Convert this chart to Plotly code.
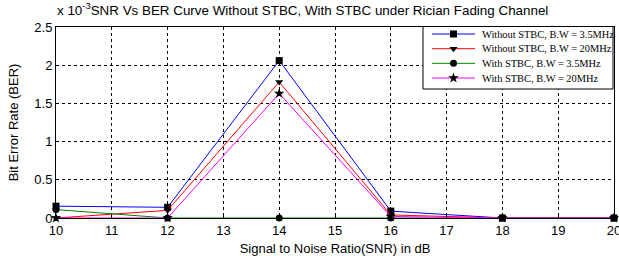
import plotly.graph_objects as go

snr = [10, 12, 14, 16, 18, 20]
# BER values in units of 1e-3
ber_wo_35 = [0.155, 0.14, 2.06, 0.09, 0.0, 0.0]
ber_wo_20 = [0.0, 0.10, 1.78, 0.04, 0.0, 0.0]
ber_w_35 = [0.11, 0.0, 0.0, 0.0, 0.0, 0.0]
ber_w_20 = [0.0, 0.0, 1.63, 0.02, 0.0, 0.0]

names = ["Without STBC, B.W = 3.5MHz", "Without STBC, B.W = 20MHz",
         "With STBC, B.W = 3.5MHz", "With STBC, B.W = 20MHz"]
series = [ber_wo_35, ber_wo_20, ber_w_35, ber_w_20]
colors = ["#0000ff", "#ff0000", "#008000", "#ff00ff"]
symbols = ["square", "triangle-down", "circle", "star"]
msizes = [7, 7, 7, 8]

y_ticks = [0, 0.5, 1, 1.5, 2, 2.5]
y_ticktext = ["0", "0.5", "1", "1.5", "2", "2.5"]
x_ticks = list(range(10, 21))
x_range = [10, 20]
y_range = [0, 2.5]

W, H = 619, 256
L, R, T, B = 56, 5, 27, 38


def px_to_x(px):
    return x_range[0] + (px - L) / (W - R - L) * (x_range[1] - x_range[0])


def py_to_y(py):
    return y_range[0] + (H - B - py) / (H - B - T) * (y_range[1] - y_range[0])


fig = go.Figure()
for n, s, c, sym, ms in zip(names, series, colors, symbols, msizes):
    fig.add_trace(go.Scatter(
        x=snr, y=s, name=n, mode="lines+markers", showlegend=False,
        line=dict(color=c, width=1), cliponaxis=False,
        marker=dict(symbol=sym, color="black", size=ms, line=dict(width=0)),
    ))

# Custom legend (pixel layout) drawn on an overlay axis
leg_left, leg_top, leg_right, leg_bottom = 423, 25, 613, 89
row_y = [34, 48.7, 63.3, 78]
line_x0, line_x1, text_x = 432, 475, 480
shapes = [dict(type="rect", xref="x", yref="y",
               x0=px_to_x(leg_left), x1=px_to_x(leg_right),
               y0=py_to_y(leg_top), y1=py_to_y(leg_bottom),
               line=dict(color="black", width=1), fillcolor="white", layer="between")]
annotations = []
for n, c, sym, ms, ry in zip(names, colors, symbols, msizes, row_y):
    fig.add_trace(go.Scatter(
        x=[line_x0, line_x1], y=[ry, ry], xaxis="x2", yaxis="y2", mode="lines",
        line=dict(color=c, width=1), showlegend=False, cliponaxis=False, hoverinfo="skip"))
    fig.add_trace(go.Scatter(
        x=[(line_x0 + line_x1) / 2], y=[ry], xaxis="x2", yaxis="y2", mode="markers",
        marker=dict(symbol=sym, color="black", size=ms, line=dict(width=0)),
        showlegend=False, cliponaxis=False, hoverinfo="skip"))
    annotations.append(dict(text=n, xref="x2", yref="y2", x=text_x, y=ry,
                            xanchor="left", yanchor="middle", showarrow=False,
                            font=dict(family="Liberation Serif, Times New Roman", size=10.4, color="black")))

annotations.append(dict(
    text="x 10<sup>-3</sup>SNR Vs BER Curve Without STBC, With STBC under Rician Fading Channel",
    xref="paper", yref="paper", x=-0.002, y=1.0, xanchor="left", yanchor="bottom",
    showarrow=False, yshift=7,
    font=dict(family="Liberation Sans, Arial", size=13.4, color="black")))

axis_common = dict(showline=True, linecolor="black", linewidth=1, mirror=True,
                   ticks="inside", ticklen=3, tickcolor="black",
                   showgrid=True, gridcolor="black", griddash="dot", gridwidth=1,
                   zeroline=False, ticklabeloverflow="allow", automargin=False,
                   tickfont=dict(family="Liberation Sans, Arial", size=13, color="black"))

fig.update_layout(
    width=W, height=H,
    margin=dict(l=L, r=R, t=T, b=B),
    paper_bgcolor="white", plot_bgcolor="white",
    showlegend=False,
    xaxis=dict(range=x_range, tickvals=x_ticks,
               title=dict(text="Signal to Noise Ratio(SNR) in dB", standoff=7,
                          font=dict(family="Liberation Sans, Arial", size=13, color="black")),
               **axis_common),
    yaxis=dict(range=y_range, tickvals=y_ticks, ticktext=y_ticktext,
               title=dict(text="Bit Error Rate (BER)", standoff=12,
                          font=dict(family="Liberation Sans, Arial", size=13, color="black")),
               **axis_common),
    xaxis2=dict(overlaying="x", range=[L, W - R], visible=False, fixedrange=True),
    yaxis2=dict(overlaying="y", range=[H - B, T], visible=False, fixedrange=True),
    shapes=shapes,
    annotations=annotations,
)

fig.write_html("out.html", config={"displayModeBar": False},
               post_script="document.body.style.margin='0px';")
